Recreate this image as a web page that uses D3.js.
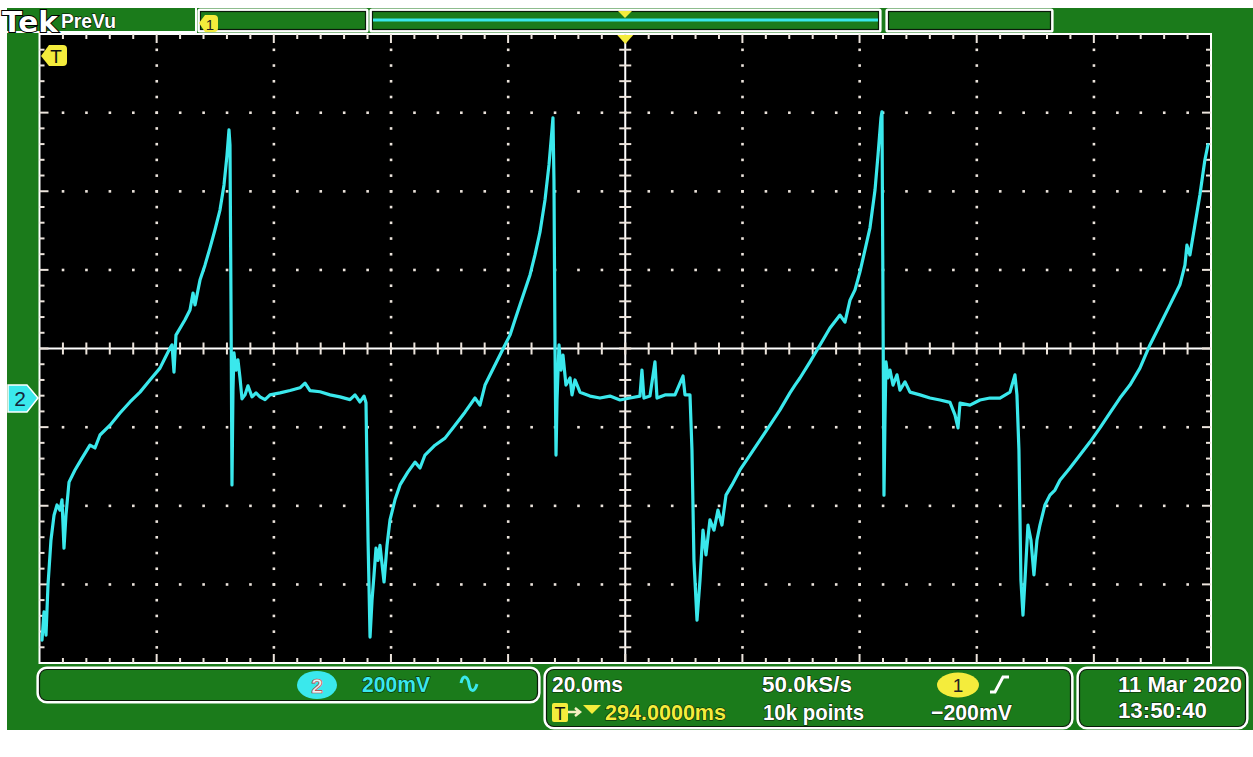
<!DOCTYPE html>
<html><head><meta charset="utf-8">
<script src="https://cdn.jsdelivr.net/npm/d3@7"></script>
<style>html,body{margin:0;padding:0;background:#fff;}svg{display:block}</style>
</head><body><svg id="c" width="1253" height="757"></svg>
<script>
const timeMs = [0.43,0.77,1.11,1.45,1.96,2.48,2.99,3.50,3.84,4.18,4.52,5.04,6.06,7.26,8.62,9.47,10.33,12.04,13.74,15.45,17.16,18.86,20.57,21.43,22.28,22.62,22.96,23.30,24.84,25.69,26.21,26.55,27.40,28.25,29.11,29.96,30.81,31.50,32.01,32.35,32.52,32.69,32.86,33.03,33.20,33.54,33.88,34.23,34.57,35.08,35.59,36.28,36.96,37.64,38.50,39.35,41.06,42.77,44.47,45.33,46.18,47.89,49.60,51.30,53.01,53.86,54.72,55.40,55.74,56.09,56.43,56.77,57.11,57.45,57.79,58.13,58.82,59.33,59.84,60.69,61.55,62.91,64.11,64.96,65.81,67.52,69.23,70.94,72.64,74.35,75.20,76.06,77.76,79.47,80.32,81.18,82.03,82.88,83.74,84.59,85.44,86.30,86.98,87.49,87.66,87.83,88.01,88.18,88.35,88.69,89.03,89.37,89.88,90.57,90.91,91.42,92.27,93.98,95.68,97.39,99.10,100.81,102.51,102.85,103.19,104.22,105.07,105.42,106.78,108.49,109.86,110.20,111.05,111.39,111.73,112.25,112.76,113.27,113.78,114.46,115.15,115.83,116.51,117.20,118.22,119.59,121.29,123.00,124.71,126.42,128.12,128.98,129.83,131.54,133.25,134.95,136.66,137.51,138.37,139.22,140.07,140.93,141.78,142.64,143.15,143.66,143.83,144.00,144.17,144.34,144.51,144.85,145.20,145.71,146.39,146.90,147.76,148.61,150.32,152.03,153.73,155.44,156.29,156.81,157.15,158.85,160.56,162.27,163.97,165.68,166.53,166.87,167.21,167.55,167.90,168.24,168.75,169.26,169.77,170.29,170.80,171.65,172.50,173.36,174.21,175.92,177.63,179.33,181.04,182.75,184.45,186.16,187.87,189.57,191.28,192.99,194.69,195.55,195.89,196.40,197.25,198.11,198.96,199.48];
const ch2mV = [-742,-670,-729,-602,-487,-424,-398,-411,-385,-508,-424,-340,-309,-279,-246,-253,-220,-195,-164,-136,-111,-80,-50,-24,1,9,-60,34,73,98,141,111,174,212,256,302,352,416,492,556,518,123,-347,-106,-11,-55,-29,-75,-128,-118,-95,-123,-113,-123,-130,-118,-113,-107,-100,-88,-107,-110,-118,-123,-130,-118,-136,-121,-138,-487,-734,-640,-576,-508,-539,-501,-594,-501,-436,-385,-347,-314,-289,-304,-271,-246,-228,-195,-162,-126,-144,-93,-42,9,34,73,111,149,187,238,296,378,467,556,587,428,-4,-271,-131,9,-55,-17,-93,-75,-118,-80,-111,-121,-126,-121,-131,-126,-121,-55,-126,-121,-34,-126,-118,-118,-70,-118,-118,-258,-539,-691,-589,-462,-525,-436,-462,-411,-449,-373,-347,-309,-271,-233,-195,-156,-113,-93,-75,-34,9,52,85,67,123,149,195,251,307,403,492,587,602,123,-373,-182,-34,-75,-55,-93,-67,-106,-85,-111,-118,-126,-131,-137,-169,-202,-139,-144,-131,-126,-126,-111,-67,-118,-258,-589,-678,-589,-449,-487,-576,-487,-449,-398,-373,-360,-335,-304,-271,-238,-202,-164,-126,-93,-50,9,60,111,162,212,263,238,314,391,480,518];

// ---- settings / labels ----
const timePerDivMs = 20;
const mVPerDiv = 200;
const hDivs = 10, vDivs = 8, minorPerDiv = 5;
const ch2GroundmV = -126;
const ch2Label = "200mV";
const timebaseLabel = "20.0ms";
const sampleRateLabel = "50.0kS/s";
const triggerPosLabel = "294.0000ms";
const recordLabel = "10k points";
const trigLevelLabel = "\u2212200mV";
const dateLabel = "11 Mar 2020";
const clockLabel = "13:50:40";

const GREEN = "#1b7b1b", CYAN = "#3ae8ec", YELLOW = "#f4ec3c", DOT = "#ece4dc";
const FONT = "'Liberation Sans', Arial, sans-serif";

const svg = d3.select("#c");
const P = {l: 39.5, r: 1211, t: 34, b: 663};
const x = d3.scaleLinear().domain([0, hDivs * timePerDivMs]).range([P.l, P.r]);
const y = d3.scaleLinear().domain([-vDivs / 2 * mVPerDiv, vDivs / 2 * mVPerDiv]).range([P.b, P.t]);

// backgrounds
svg.append("rect").attr("width", 1253).attr("height", 757).attr("fill", "#fff");
svg.append("rect").attr("x", 7).attr("y", 8).attr("width", 1246).attr("height", 722).attr("fill", GREEN);

// top bar
const topBar = svg.append("g");
topBar.append("path").attr("d", "M7,32 H196 V8").attr("fill", "none").attr("stroke", "#fff").attr("stroke-width", 2);
function box(g, x0, y0, x1, y1, r) {
  g.append("rect").attr("x", x0).attr("y", y0).attr("width", x1 - x0).attr("height", y1 - y0).attr("rx", r)
    .attr("fill", GREEN).attr("stroke", "#fff").attr("stroke-width", 3.2);
  g.append("rect").attr("x", x0 + 1.5).attr("y", y0 + 1.5).attr("width", x1 - x0 - 3).attr("height", y1 - y0 - 3).attr("rx", Math.max(0, r - 1.5))
    .attr("fill", "none").attr("stroke", "#0a1a0a").attr("stroke-width", 1.2);
}
box(topBar, 199, 10, 367, 31, 1);
box(topBar, 371, 10, 880, 31, 1);
box(topBar, 887, 10, 1052, 31, 1);
topBar.append("rect").attr("x", 373).attr("y", 18.5).attr("width", 505).attr("height", 3).attr("fill", CYAN);
topBar.append("path").attr("d", "M618,11 L632,11 L625,18 Z").attr("fill", YELLOW);
// ch1 marker in top box
topBar.append("path").attr("d", "M199,23 L205,15 L214,15 Q218,15 218,19 L218,28 Q218,32 214,32 L205,32 Z").attr("fill", YELLOW);
topBar.append("text").attr("x", 210).attr("y", 30).attr("text-anchor", "middle").attr("font-family", FONT)
  .attr("font-size", 15).attr("fill", "#222").text("1");

// Tek logo
svg.append("text").attr("x", 2).attr("y", 32).attr("font-family", "'DejaVu Sans', sans-serif").attr("font-weight", "bold")
  .attr("font-size", 29).attr("fill", "#fff").attr("stroke", "#000").attr("stroke-width", 2).attr("paint-order", "stroke")
  .attr("textLength", 56).attr("lengthAdjust", "spacingAndGlyphs").text("Tek");
svg.append("text").attr("x", 61).attr("y", 28).attr("font-family", FONT).attr("font-weight", "bold")
  .attr("font-size", 20).attr("fill", "#fff").attr("stroke", "#000").attr("stroke-width", 1).attr("paint-order", "stroke")
  .attr("textLength", 55).attr("lengthAdjust", "spacingAndGlyphs").text("PreVu");

// plot area
svg.append("rect").attr("x", P.l).attr("y", P.t).attr("width", P.r - P.l).attr("height", P.b - P.t)
  .attr("fill", "#000").attr("stroke", "#fff").attr("stroke-width", 2);

const grid = svg.append("g");
const minorT = d3.range(0, hDivs * minorPerDiv + 1).map(i => i * timePerDivMs / minorPerDiv);
const minorV = d3.range(0, vDivs * minorPerDiv + 1).map(i => -vDivs / 2 * mVPerDiv + i * mVPerDiv / minorPerDiv);
const majorT = d3.range(1, hDivs).map(i => i * timePerDivMs).filter(t => t !== hDivs / 2 * timePerDivMs);
const majorV = d3.range(-vDivs / 2 + 1, vDivs / 2).map(i => i * mVPerDiv).filter(v => v !== 0);
// dotted graticule
majorT.forEach(t => minorV.slice(1, -1).forEach(v => {
  grid.append("rect").attr("x", x(t) - 1.2).attr("y", y(v) - 1.2).attr("width", 2.6).attr("height", 2.6).attr("fill", DOT);
}));
majorV.forEach(v => minorT.slice(1, -1).forEach(t => {
  grid.append("rect").attr("x", x(t) - 1.2).attr("y", y(v) - 1.2).attr("width", 2.6).attr("height", 2.6).attr("fill", DOT);
}));
// centre cross
const cx = x(hDivs / 2 * timePerDivMs), cy = y(0);
grid.append("line").attr("x1", P.l).attr("x2", P.r).attr("y1", cy).attr("y2", cy).attr("stroke", "#fff").attr("stroke-width", 2);
grid.append("line").attr("x1", cx).attr("x2", cx).attr("y1", P.t).attr("y2", P.b).attr("stroke", "#fff").attr("stroke-width", 2);
minorT.slice(1, -1).forEach(t => grid.append("line").attr("x1", x(t)).attr("x2", x(t)).attr("y1", cy - 6).attr("y2", cy + 6).attr("stroke", DOT).attr("stroke-width", 2));
minorV.slice(1, -1).forEach(v => grid.append("line").attr("x1", cx - 6).attr("x2", cx + 6).attr("y1", y(v)).attr("y2", y(v)).attr("stroke", DOT).attr("stroke-width", 2));
// border ticks
minorT.slice(1, -1).forEach((t, i) => {
  const L = ((i + 1) % minorPerDiv === 0) ? 9 : 5;
  grid.append("line").attr("x1", x(t)).attr("x2", x(t)).attr("y1", P.t).attr("y2", P.t + L).attr("stroke", DOT).attr("stroke-width", 2);
  grid.append("line").attr("x1", x(t)).attr("x2", x(t)).attr("y1", P.b).attr("y2", P.b - L).attr("stroke", DOT).attr("stroke-width", 2);
});
minorV.slice(1, -1).forEach((v, i) => {
  const L = ((i + 1) % minorPerDiv === 0) ? 9 : 5;
  grid.append("line").attr("x1", P.l).attr("x2", P.l + L).attr("y1", y(v)).attr("y2", y(v)).attr("stroke", DOT).attr("stroke-width", 2);
  grid.append("line").attr("x1", P.r).attr("x2", P.r - L).attr("y1", y(v)).attr("y2", y(v)).attr("stroke", DOT).attr("stroke-width", 2);
});

// trace
svg.append("clipPath").attr("id", "clip").append("rect").attr("x", P.l).attr("y", P.t).attr("width", P.r - P.l).attr("height", P.b - P.t);
const line = d3.line().x(d => x(d[0])).y(d => y(d[1]));
svg.append("path").attr("clip-path", "url(#clip)").datum(timeMs.map((t, i) => [t, ch2mV[i]]))
  .attr("d", line).attr("fill", "none").attr("stroke", CYAN).attr("stroke-width", 3.2)
  .attr("stroke-linejoin", "round").attr("stroke-linecap", "round");

// trigger position marker (top of graticule) and T marker
svg.append("path").attr("d", `M${cx - 8},${P.t + 1} L${cx + 8},${P.t + 1} L${cx},${P.t + 10} Z`).attr("fill", YELLOW);
svg.append("path").attr("d", "M41,56 L49,45 L63,45 Q67,45 67,49 L67,62 Q67,66 63,66 L49,66 Z").attr("fill", YELLOW);
svg.append("text").attr("x", 56).attr("y", 63).attr("text-anchor", "middle").attr("font-family", FONT)
  .attr("font-size", 19).attr("fill", "#111").text("T");

// ch2 ground marker
const gy = y(ch2GroundmV);
svg.append("path").attr("d", `M8,${gy - 13} L27,${gy - 13} L38,${gy} L27,${gy + 14} L8,${gy + 14} Z`)
  .attr("fill", CYAN).attr("stroke", "#fff").attr("stroke-width", 1.5);
svg.append("text").attr("x", 20).attr("y", gy + 8).attr("text-anchor", "middle").attr("font-family", FONT)
  .attr("font-size", 21).attr("fill", "#14243a").text("2");

// bottom readouts
const bot = svg.append("g");
box(bot, 38, 668, 539, 702, 9);
box(bot, 545, 668, 1072, 728, 9);
box(bot, 1078, 668, 1247, 728, 9);
function txt(xp, yp, s, fill, w, size) {
  bot.append("text").attr("x", xp).attr("y", yp).attr("font-family", FONT).attr("font-weight", "bold")
    .attr("font-size", size || 22).attr("fill", fill).attr("stroke", "#062006").attr("stroke-width", 1.2)
    .attr("paint-order", "stroke").attr("textLength", w).attr("lengthAdjust", "spacingAndGlyphs").text(s);
}
bot.append("ellipse").attr("cx", 317).attr("cy", 685).attr("rx", 20).attr("ry", 14).attr("fill", CYAN);
bot.append("text").attr("x", 317).attr("y", 693).attr("text-anchor", "middle").attr("font-family", FONT).attr("font-weight", "bold")
  .attr("font-size", 21).attr("fill", "#e8f4f4").attr("stroke", "#c03838").attr("stroke-width", 0.7).text("2");
txt(362, 692, ch2Label, CYAN, 68);
bot.append("path").attr("d", "M461,683 C463,673 468,677 469,684 C470,691 474,694 477,684")
  .attr("fill", "none").attr("stroke", CYAN).attr("stroke-width", 3);

txt(552, 692, timebaseLabel, "#fff", 71);
txt(762, 692, sampleRateLabel, "#fff", 90);
bot.append("ellipse").attr("cx", 958).attr("cy", 685).attr("rx", 21).attr("ry", 12.5).attr("fill", YELLOW);
bot.append("text").attr("x", 958).attr("y", 692).attr("text-anchor", "middle").attr("font-family", FONT)
  .attr("font-size", 19).attr("fill", "#222").text("1");
bot.append("path").attr("d", "M990,692 L995,692 L1003,677 L1009,677").attr("fill", "none").attr("stroke", "#fff").attr("stroke-width", 3);

bot.append("rect").attr("x", 552).attr("y", 703).attr("width", 16).attr("height", 19).attr("rx", 2).attr("fill", YELLOW);
bot.append("text").attr("x", 560).attr("y", 720).attr("text-anchor", "middle").attr("font-family", FONT)
  .attr("font-size", 18).attr("fill", "#111").text("T");
bot.append("path").attr("d", "M568,712 L579,712 M575,708 L580,712 L575,716").attr("fill", "none").attr("stroke", "#f4f0c0").attr("stroke-width", 2.5);
bot.append("path").attr("d", "M583,705 L601,705 L592,714 Z").attr("fill", YELLOW);
txt(605, 720, triggerPosLabel, YELLOW, 121);
txt(763, 720, recordLabel, "#fff", 101);
txt(931, 720, trigLevelLabel, "#fff", 81);

txt(1118, 692, dateLabel, "#fff", 124);
txt(1118, 718, clockLabel, "#fff", 89);
</script></body></html>
